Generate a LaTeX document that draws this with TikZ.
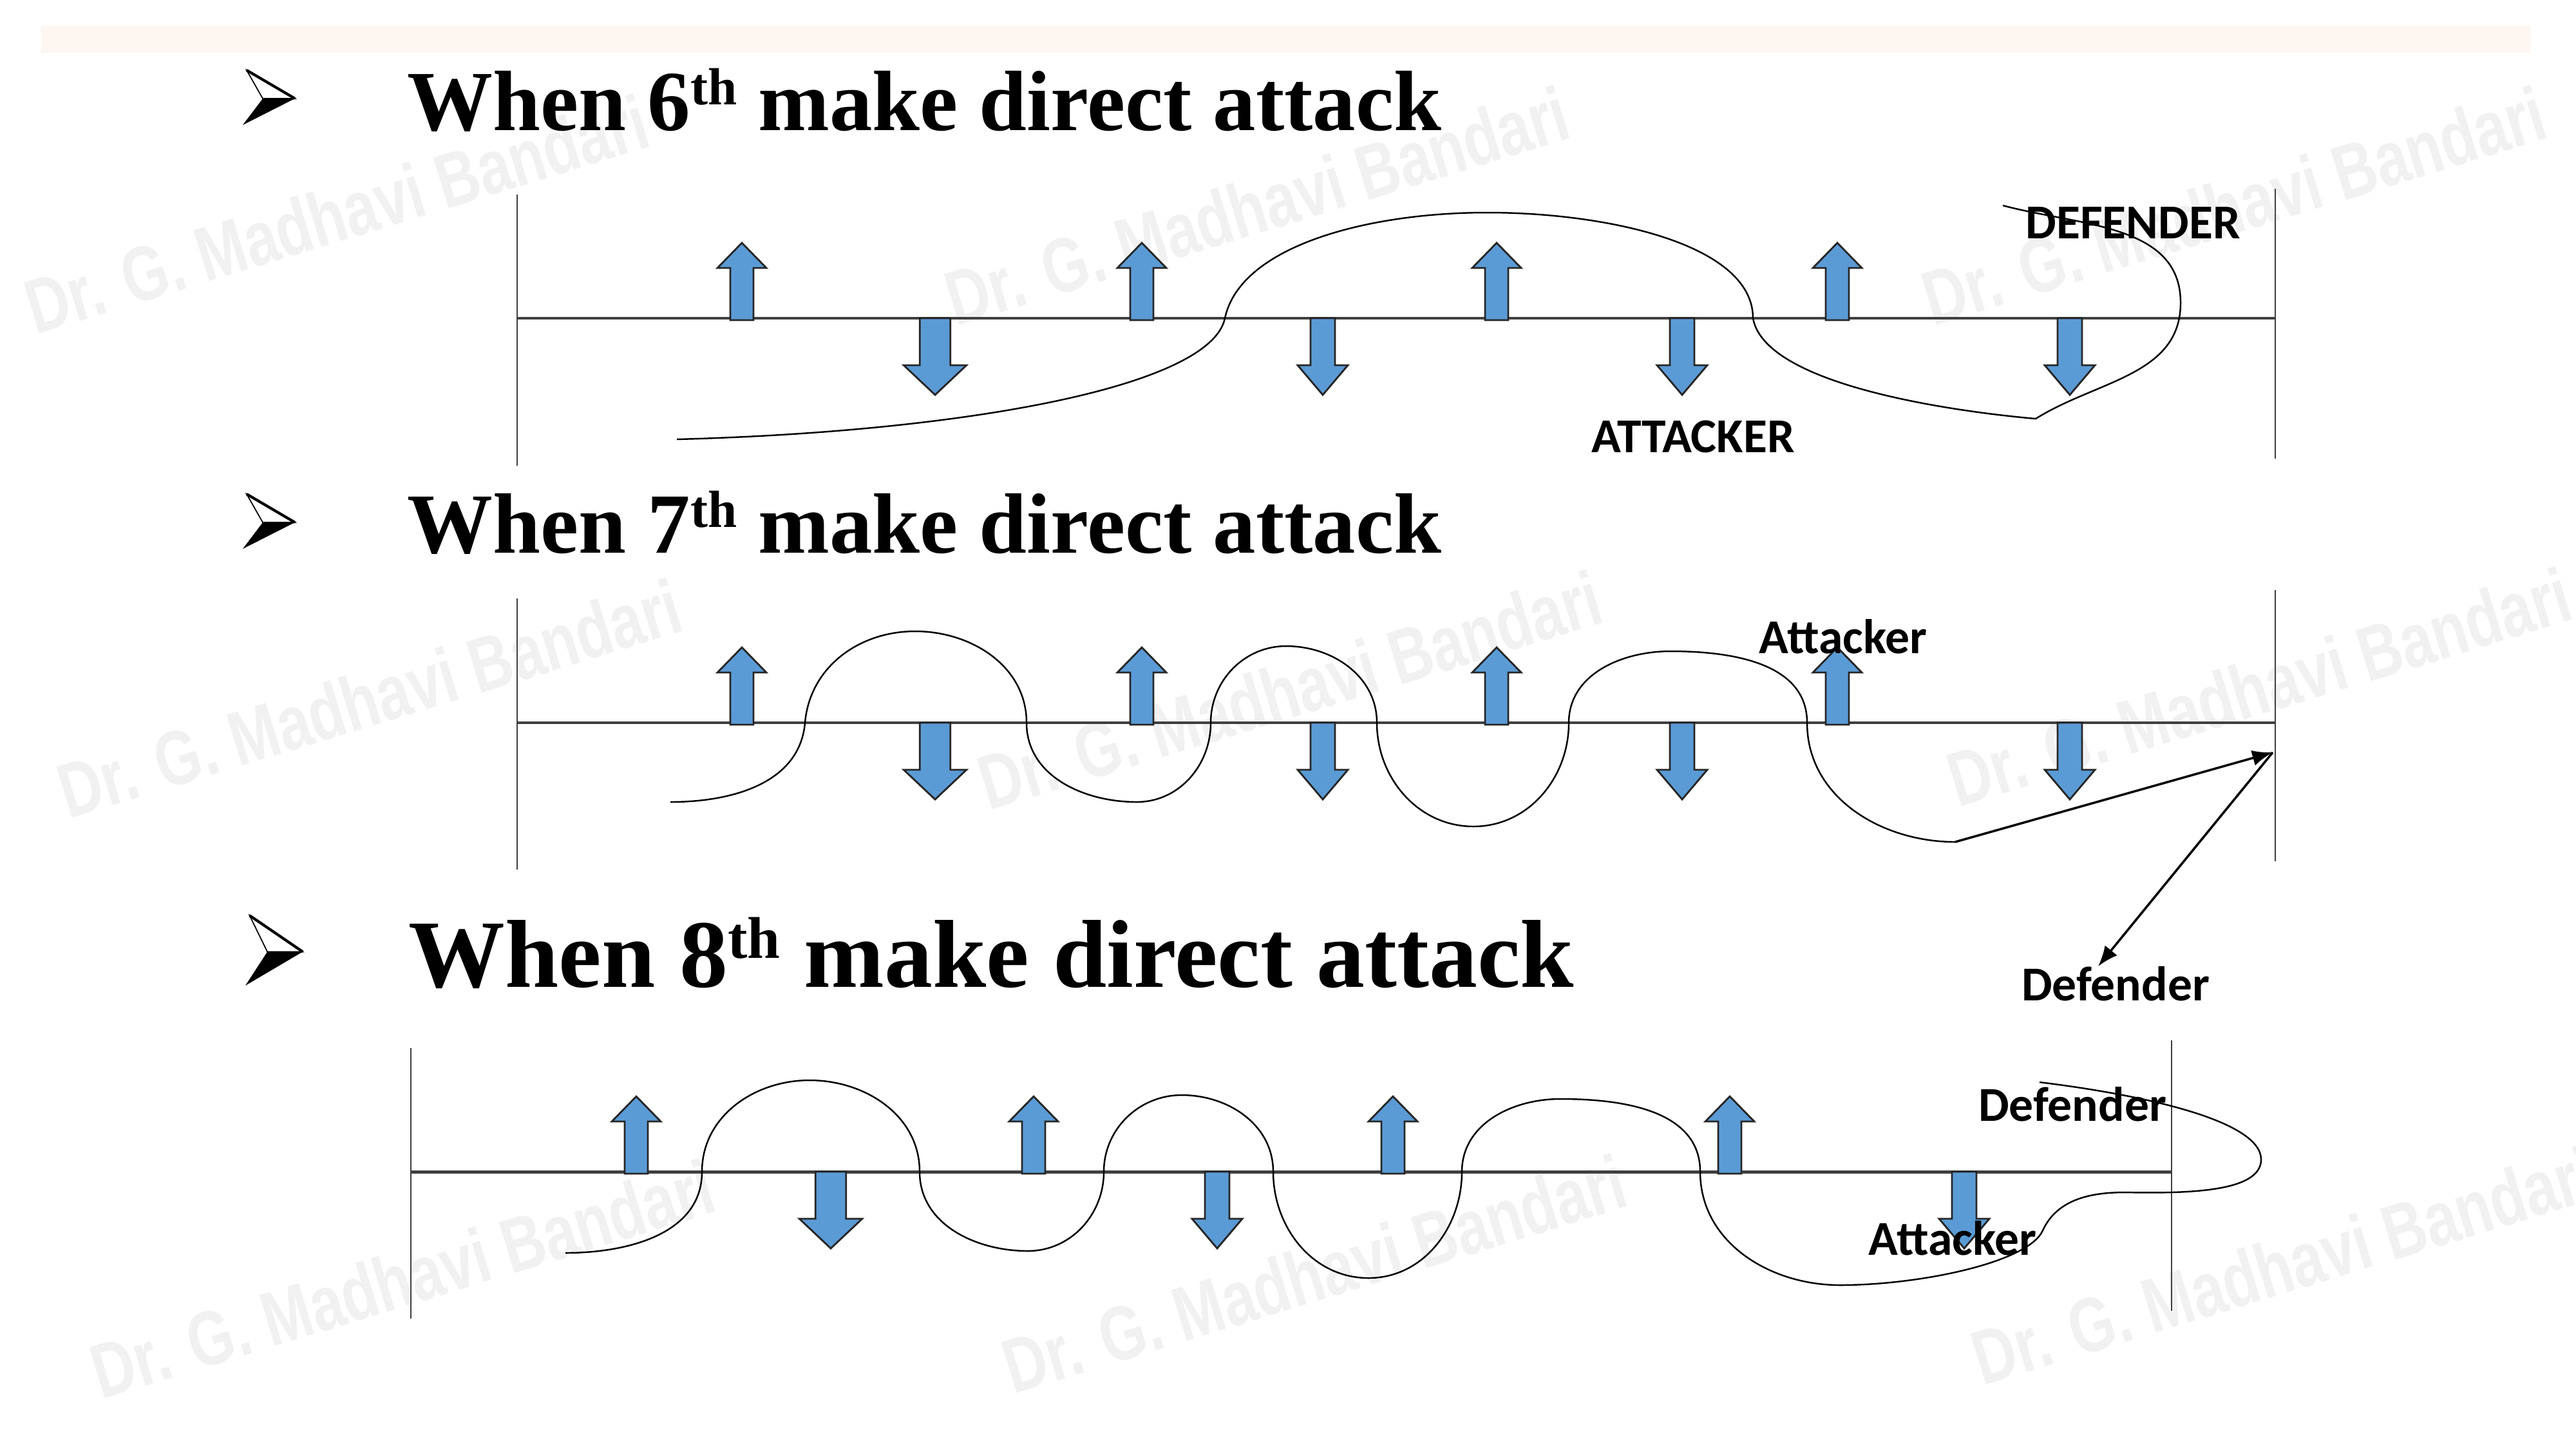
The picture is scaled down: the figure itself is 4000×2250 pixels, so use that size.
\documentclass[tikz,border=0pt]{standalone}
\usepackage{fontspec}
\setmainfont{Liberation Serif}
\newfontfamily\tagfont{Carlito}
\newfontfamily\markfont{Liberation Sans}
\usetikzlibrary{arrows.meta}
\definecolor{arrowblue}{HTML}{5B9BD5}
\definecolor{courtgray}{HTML}{404040}
\definecolor{barpeach}{HTML}{FDF6F1}
\definecolor{markgray}{HTML}{F1F1F1}
\newcommand{\ordsup}{\raisebox{0.30em}{\scalebox{0.61}{th}}}
\tikzset{
  court/.style={draw=courtgray,line width=1.4pt},
  post/.style={draw=courtgray,line width=0.8pt},
  runline/.style={draw=black,line width=0.7pt},
  pointer/.style={draw=black,line width=1pt,-{Latex[length=9pt,width=7pt]}},
  heading/.style={anchor=base west,inner sep=0pt,font=\bfseries\fontsize{37.8}{40}\selectfont},
  tag/.style={inner sep=0pt,font=\tagfont\bfseries\fontsize{21.5}{23}\selectfont},
  watermark/.style={rotate=17,text=markgray,inner sep=0pt,font=\markfont\bfseries\fontsize{34}{36}\selectfont},
  blockarrow/.style={fill=arrowblue,draw=black!85,line width=0.8pt,line join=miter},
  upblock/.pic={
    \filldraw[blockarrow] (-18,-3) -- (-18,78) -- (-38,78) -- (0,117) -- (38,78) -- (18,78) -- (18,-3) -- cycle;
  },
  downblock/.pic={
    \filldraw[blockarrow] (-19,0) -- (-19,-73) -- (-39,-73) -- (0,-119) -- (39,-73) -- (19,-73) -- (19,0) -- cycle;
  },
  bullet/.pic={
    \filldraw[fill=white,draw=black,line width=0.5pt] (6,85) -- (81,41) -- (31,41) -- cycle;
    \draw[line width=1.2pt] (6,85) -- (81,41);
    \fill[black] (31,41) -- (81,41) -- (0,0) -- cycle;
  }
}

\begin{document}
\begin{tikzpicture}[x=0.01cm,y=0.01cm]
\fill[white] (0,0) rectangle (4000,-2250);
\useasboundingbox (0,0) rectangle (4000,-2250);
\fill[barpeach] (64,-40) rectangle (3929,-82);

\foreach \wx/\wy in {523/332,1952/319,3469/319,574/1084,2003/1071,3508/1066,625/1985,2041/1977,3546/1964}
  \node[watermark] at (\wx,-\wy) {\scalebox{0.76}[1]{Dr. G. Madhavi Bandari}};

% headings
\pic at (377,-194) {bullet};
\node[heading] (h6) at (632,-202) {When 6\ordsup{} make direct attack};
\pic at (377,-852) {bullet};
\node[heading] (h7) at (632,-858) {When 7\ordsup{} make direct attack};
\pic[xscale=1.1,yscale=1.28] at (381,-1530) {bullet};
\node[heading,font=\bfseries\fontsize{42.6}{45}\selectfont] (h8) at (634,-1532) {When 8\ordsup{} make direct attack};

% 6th
\draw[post] (803,-302) -- (803,-723);
\draw[post] (3533,-293) -- (3533,-712);
\draw[court] (803,-494) -- (3533,-494);
\foreach \ax in {1152,1773,2324,2853} \pic at (\ax,-494) {upblock};
\pic[xscale=1.25] at (1452,-494) {downblock};
\foreach \ax in {2054,2612,3214} \pic at (\ax,-494) {downblock};
\node[tag] (def6) at (3312,-346) {DEFENDER};
\node[tag] (att6) at (2629,-678) {ATTACKER};
\draw[runline] (1051,-682) .. controls (1500,-670) and (1880,-600) .. (1902,-494)
  .. controls (1926,-381) and (2126,-330) .. (2309,-330)
  .. controls (2495,-330) and (2722,-379) .. (2722,-494)
  to[out=-80,in=175,looseness=0.6] (3161,-650)
  to[out=32,in=270] (3386,-470) to[out=90,in=-15] (3110,-319);

% 7th
\draw[post] (803,-929) -- (803,-1350);
\draw[post] (3533,-916) -- (3533,-1337);
\draw[court] (803,-1122) -- (3533,-1122);
\foreach \ax in {1152,1773,2324,2853} \pic at (\ax,-1122) {upblock};
\pic[xscale=1.25] at (1452,-1122) {downblock};
\foreach \ax in {2054,2612,3214} \pic at (\ax,-1122) {downblock};
\draw[runline] (1041,-1245) to[out=0,in=265] (1250,-1122) to[out=85,in=180] (1421,-980)
  to[out=0,in=90] (1594,-1122) to[out=-90,in=180] (1765,-1245)
  to[out=0,in=-90] (1880,-1122) to[out=90,in=180] (1997,-1003)
  to[out=0,in=90] (2138,-1122) to[out=-90,in=180] (2288,-1283)
  to[out=0,in=-90] (2436,-1122) to[out=90,in=180] (2594,-1011)
  to[out=0,in=90] (2806,-1122) to[out=-90,in=180] (3036,-1307);
\node[tag] (att7) at (2862,-988) {Attacker};
\node[tag] (def7) at (3285,-1527) {Defender};
\coordinate (dip7) at (3036,-1307);
\coordinate (hit7) at (3529,-1168);
\coordinate (aim7) at (3258,-1500);
\draw[pointer] (dip7) -- (hit7);
\draw[pointer] (hit7) -- (aim7);

% 8th
\draw[post] (638,-1627) -- (638,-2047);
\draw[post] (3372,-1615) -- (3372,-2035);
\draw[court] (638,-1819) -- (3372,-1819);
\foreach \ax in {988,1605,2163,2686} \pic at (\ax,-1819) {upblock};
\pic[xscale=1.25] at (1290,-1819) {downblock};
\foreach \ax in {1890,3050} \pic at (\ax,-1819) {downblock};
\draw[runline] (878,-1945) to[out=0,in=-90] (1090,-1819) to[out=90,in=180] (1257,-1677)
  to[out=0,in=90] (1428,-1819) to[out=-90,in=180] (1596,-1942)
  to[out=0,in=-90] (1714,-1819) to[out=90,in=180] (1835,-1700)
  to[out=0,in=90] (1977,-1819) to[out=-90,in=180] (2125,-1984)
  to[out=0,in=-90] (2270,-1819) to[out=90,in=180] (2423,-1706)
  to[out=0,in=90] (2640,-1819) to[out=-90,in=180] (2857,-1995)
  .. controls (2980,-1995) and (3150,-1960) .. (3172,-1910)
  .. controls (3195,-1860) and (3250,-1851) .. (3300,-1851)
  .. controls (3400,-1853) and (3511,-1850) .. (3511,-1800)
  .. controls (3511,-1740) and (3330,-1700) .. (3167,-1680);
\node[tag] (def8) at (3218,-1714) {Defender};
\node[tag] (att8) at (3032,-1922) {Attacker};
\end{tikzpicture}
\end{document}
